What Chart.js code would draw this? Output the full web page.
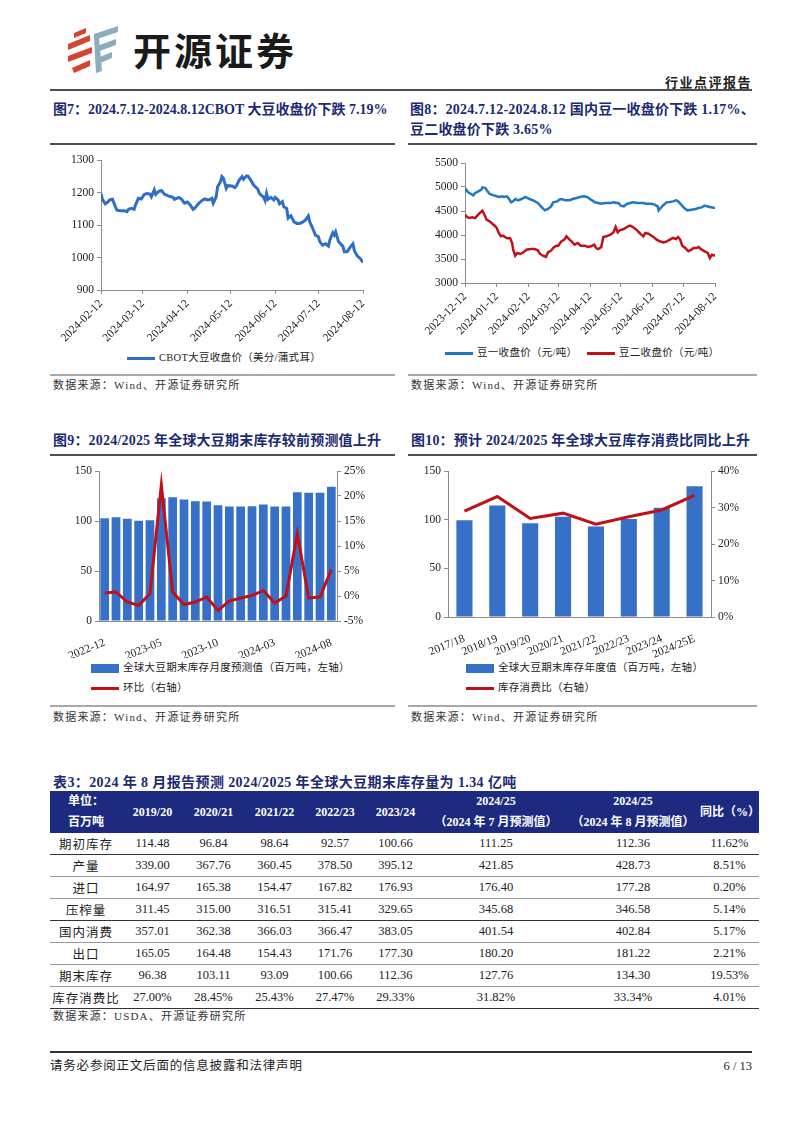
<!DOCTYPE html>
<html lang="zh-CN">
<head>
<meta charset="UTF-8">
<title>行业点评报告</title>
<script src="https://cdn.jsdelivr.net/npm/chart.js"></script>
<style>
  body { margin: 0; background: #fff; font-family: "Liberation Serif", "Noto Sans CJK SC", serif; color: #222; }
  #page { position: relative; width: 802px; height: 1133px; overflow: hidden; }
  .abs { position: absolute; }
  .title { font-size: 14px; font-weight: bold; color: #1b2b72; line-height: 20px; white-space: nowrap; letter-spacing: 0.2px; }
  .src { font-size: 11px; color: #333; white-space: nowrap; line-height: 14px; letter-spacing: 1.2px; }
  .rule-dark { height: 2px; background: #4d4d4d; }
  .rule-grey { height: 2px; background: #a8a8a8; }
  .lg { font-size: 10.5px; white-space: nowrap; line-height: 14px; color: #222; letter-spacing: 0.3px; }
  .lg span.sw { display: inline-block; vertical-align: middle; margin-right: 4px; }
  table { border-collapse: collapse; table-layout: fixed; font-size: 12.5px; }
  th { background: #1c2a80; color: #fff; font-weight: bold; line-height: 21px; padding: 0; text-align: center; font-size: 12px; }
  td { text-align: center; padding: 0; height: 21px; color: #222; }
  tr.dark td { border-bottom: 1.5px solid #333; }
  tr.grey td { border-bottom: 1px solid #9a9a9a; }
</style>
</head>
<body>
<div id="page">

  <!-- header -->
  <svg class="abs" style="left:65px; top:25px;" width="60" height="52">
    <polygon points="9,8 21,3 21,8 9,13" fill="#d8432f"/>
    <polygon points="3,19 25,10 25,16 3,25" fill="#d8432f"/>
    <polygon points="3,31 27,22 27,28 3,37" fill="#d8432f"/>
    <polygon points="7,43 25,35 25,41 9,48" fill="#d8432f"/>
    <polygon points="29,9 53,1 53,7 29,15" fill="#8eacbd"/>
    <polygon points="32,21 51,14 51,20 32,27" fill="#8eacbd"/>
    <polygon points="32,33 47,27 47,33 33,39" fill="#8eacbd"/>
    <polygon points="29,12 34,12 37,46 31,48" fill="#8eacbd"/>
  </svg>
  <div class="abs" style="left:133px; top:29px; font-family:'Noto Sans CJK SC'; font-weight:700; font-size:38px; line-height:40px; letter-spacing:3px; color:#1a1a1a;">开源证券</div>
  <div class="abs" style="right:50px; top:74px; font-family:'Noto Sans CJK SC'; font-weight:700; font-size:13px; line-height:16px; letter-spacing:1.5px; color:#222;">行业点评报告</div>
  <div class="abs rule-dark" style="left:50px; top:89px; width:702px;"></div>

  <!-- titles row 1 -->
  <div class="abs title" style="left:53px; top:100px; letter-spacing:0;">图7：2024.7.12-2024.8.12CBOT 大豆收盘价下跌 7.19%</div>
  <div class="abs title" style="left:410px; top:100px;">图8：2024.7.12-2024.8.12 国内豆一收盘价下跌 1.17%、<br>豆二收盘价下跌 3.65%</div>
  <div class="abs rule-dark" style="left:50px; top:143px; width:345px; height:1.5px;"></div>
  <div class="abs rule-dark" style="left:408px; top:143px; width:349px; height:1.5px;"></div>

  <canvas id="c7" class="abs" style="left:50px; top:146px;" width="345" height="200"></canvas>
  <canvas id="c8" class="abs" style="left:408px; top:146px;" width="349" height="200"></canvas>
  <div id="lg7"></div>
  <div id="lg8"></div>

  <div class="abs rule-grey" style="left:50px; top:374px; width:345px;"></div>
  <div class="abs rule-grey" style="left:408px; top:374px; width:349px;"></div>
  <div class="abs src" style="left:53px; top:378px;">数据来源：Wind、开源证券研究所</div>
  <div class="abs src" style="left:411px; top:378px;">数据来源：Wind、开源证券研究所</div>

  <!-- titles row 2 -->
  <div class="abs title" style="left:53px; top:431px;">图9：2024/2025 年全球大豆期末库存较前预测值上升</div>
  <div class="abs title" style="left:411px; top:431px;">图10：预计 2024/2025 年全球大豆库存消费比同比上升</div>
  <div class="abs rule-dark" style="left:50px; top:454px; width:345px; height:1.5px;"></div>
  <div class="abs rule-dark" style="left:408px; top:454px; width:349px; height:1.5px;"></div>

  <canvas id="c9" class="abs" style="left:50px; top:458px;" width="345" height="200"></canvas>
  <canvas id="c10" class="abs" style="left:408px; top:458px;" width="349" height="200"></canvas>
  <div id="lg9"></div>
  <div id="lg10"></div>

  <div class="abs rule-grey" style="left:50px; top:705px; width:345px;"></div>
  <div class="abs rule-grey" style="left:408px; top:705px; width:349px;"></div>
  <div class="abs src" style="left:53px; top:710px;">数据来源：Wind、开源证券研究所</div>
  <div class="abs src" style="left:411px; top:710px;">数据来源：Wind、开源证券研究所</div>

  <!-- table -->
  <div class="abs title" style="left:53px; top:773px; letter-spacing:0.4px;">表3：2024 年 8 月报告预测 2024/2025 年全球大豆期末库存量为 1.34 亿吨</div>
  <table id="tbl" class="abs" style="left:50px; top:791px; width:709px;"></table>
  <div class="abs src" style="left:53px; top:1009px;">数据来源：USDA、开源证券研究所</div>

  <!-- footer -->
  <div class="abs" style="left:50px; top:1051px; width:702px; height:1.5px; background:#333;"></div>
  <div class="abs" style="left:50px; top:1058px; font-size:12.5px; line-height:16px; letter-spacing:0.8px; color:#222;">请务必参阅正文后面的信息披露和法律声明</div>
  <div class="abs" style="right:50px; top:1058px; font-size:12.5px; line-height:16px; color:#222;">6 / 13</div>
</div>

<script>
  // ---- 图7: CBOT soybean close (day offset from 2024-02-12) ----
  const cbotTickDays = [0, 29, 60, 90, 121, 151, 182];
  const cbotTickLabels = ['2024-02-12', '2024-03-12', '2024-04-12', '2024-05-12', '2024-06-12', '2024-07-12', '2024-08-12'];
  const cbotDay = [0, 1, 3, 5, 6, 8, 10, 11, 13, 16, 18, 19, 21, 23, 24, 26, 28, 30, 32, 34,
    35, 37, 38, 40, 42, 44, 47, 50, 51, 54, 56, 58, 60, 62, 64, 65, 68, 70, 72, 74,
    76, 77, 78, 80, 81, 83, 84, 85, 87, 88, 91, 93, 94, 96, 98, 99, 101, 102, 104, 106,
    109, 110, 113, 114, 115, 116, 118, 120, 121, 123, 124, 126, 127, 129, 130, 132, 134, 136, 138, 140,
    142, 144, 145, 147, 149, 151, 152, 154, 156, 158, 159, 161, 162, 163, 165, 166, 168, 169, 171, 173,
    175, 176, 178, 180, 182];
  const cbotPrice = [1197, 1179, 1165, 1172, 1177, 1179, 1156, 1146, 1144, 1144, 1141, 1148, 1151, 1148, 1162, 1182, 1180, 1194, 1197, 1195,
    1187, 1208, 1194, 1203, 1206, 1195, 1189, 1185, 1179, 1185, 1179, 1167, 1171, 1162, 1148, 1151, 1167, 1175, 1180, 1177,
    1179, 1182, 1167, 1187, 1218, 1233, 1249, 1244, 1213, 1221, 1220, 1215, 1220, 1238, 1249, 1241, 1251, 1251, 1238, 1223,
    1210, 1197, 1185, 1175, 1197, 1179, 1185, 1177, 1185, 1177, 1165, 1172, 1156, 1151, 1121, 1128, 1110, 1105, 1105, 1109,
    1115, 1128, 1110, 1090, 1069, 1064, 1049, 1038, 1042, 1035, 1054, 1076, 1069, 1079, 1049, 1044, 1035, 1018, 1018, 1031,
    1042, 1021, 1005, 997, 985];

  // ---- 图8: DCE soybean No.1 / No.2 (day offset from 2023-12-12) ----
  const dceTickDays = [0, 31, 62, 91, 122, 152, 183, 213, 244];
  const dceTickLabels = ['2023-12-12', '2024-01-12', '2024-02-12', '2024-03-12', '2024-04-12', '2024-05-12', '2024-06-12', '2024-07-12', '2024-08-12'];
  const bean1Day = [0, 3, 6, 8, 10, 13, 16, 17, 20, 22, 24, 28, 31, 34, 36, 38, 41, 43, 45, 47,
    49, 52, 55, 59, 63, 67, 71, 75, 78, 81, 84, 86, 90, 92, 94, 98, 102, 105, 109, 112,
    116, 119, 121, 124, 127, 130, 133, 137, 142, 145, 148, 150, 152, 155, 158, 161, 164, 168, 171, 174,
    177, 182, 185, 188, 189, 191, 194, 197, 200, 203, 206, 208, 211, 214, 217, 221, 225, 228, 231, 234,
    236, 239, 244];
  const bean1Price = [4979, 4889, 4854, 4826, 4875, 4910, 4944, 4993, 4979, 4910, 4854, 4826, 4806, 4792, 4806, 4792, 4806, 4750, 4681, 4701,
    4750, 4722, 4750, 4792, 4750, 4715, 4667, 4576, 4514, 4542, 4597, 4681, 4701, 4736, 4750, 4722, 4722, 4750, 4771, 4792,
    4806, 4792, 4764, 4722, 4681, 4667, 4653, 4667, 4667, 4681, 4667, 4667, 4611, 4597, 4646, 4667, 4681, 4667, 4667, 4667,
    4653, 4653, 4632, 4597, 4514, 4563, 4632, 4681, 4688, 4701, 4722, 4701, 4632, 4563, 4514, 4528, 4542, 4563, 4576, 4611,
    4597, 4583, 4563];
  const bean2Day = [0, 2, 4, 7, 10, 12, 15, 17, 19, 21, 24, 27, 29, 31, 33, 35, 37, 41, 44, 46,
    47, 49, 51, 54, 57, 60, 64, 68, 71, 73, 76, 79, 81, 84, 86, 89, 91, 94, 97, 99,
    102, 104, 107, 110, 113, 117, 120, 123, 126, 128, 130, 133, 135, 138, 142, 145, 147, 149, 151, 155,
    158, 161, 164, 168, 171, 174, 176, 179, 182, 184, 187, 190, 194, 197, 200, 203, 206, 208, 210, 212,
    215, 218, 221, 223, 226, 228, 231, 234, 237, 239, 241, 244];
  const bean2Price = [4424, 4375, 4354, 4368, 4354, 4403, 4472, 4507, 4424, 4319, 4285, 4229, 4194, 4146, 4042, 3972, 3986, 3931, 3938, 3833,
    3694, 3569, 3625, 3604, 3639, 3694, 3708, 3708, 3681, 3611, 3569, 3542, 3639, 3674, 3729, 3778, 3778, 3868, 3903, 3972,
    3903, 3868, 3799, 3833, 3778, 3778, 3750, 3764, 3799, 3729, 3708, 3750, 3958, 3972, 4007, 4056, 4167, 4056, 4097, 4125,
    4167, 4194, 4167, 4097, 4028, 3972, 4042, 4028, 3986, 3958, 3903, 3868, 3847, 3868, 3903, 3938, 3917, 3958, 3903, 3778,
    3729, 3660, 3694, 3729, 3729, 3750, 3694, 3660, 3625, 3521, 3590, 3569];

  // ---- 图9: monthly forecasts of world ending stocks ----
  const invMonths = ['2022-12', '2023-01', '2023-02', '2023-03', '2023-04', '2023-05', '2023-06', '2023-07', '2023-08', '2023-09', '2023-10',
    '2023-11', '2023-12', '2024-01', '2024-02', '2024-03', '2024-04', '2024-05', '2024-06', '2024-07', '2024-08'];
  const invMonthly = [102.7, 103.7, 102.3, 100.2, 100.8, 122.8, 123.8, 121.5, 119.8, 119.5, 115.8, 114.5, 114.5, 114.8, 116.5, 114.5, 114.5, 128.8, 128.2, 128.2, 134.3];
  const invMoM = [0.6, 0.8, -1.2, -1.9, 0.5, 22.2, 0.8, -1.7, -1.2, -0.2, -2.9, -1.0, -0.4, 0.1, 1.1, -1.4, 0, 12.5, -0.4, -0.2, 5.3];

  // ---- 图10: yearly ending stocks and stocks-to-use ----
  const seasons = ['2017/18', '2018/19', '2019/20', '2020/21', '2021/22', '2022/23', '2023/24', '2024/25E'];
  const seasonStocks = [99.5, 114.5, 96.38, 103.11, 93.09, 100.66, 112.36, 134.30];
  const stockUseRatio = [29.0, 33.0, 27.00, 28.45, 25.43, 27.47, 29.33, 33.34];

  // ---- 表3 ----
  const tableHead = ['单位：<br>百万吨', '2019/20', '2020/21', '2021/22', '2022/23', '2023/24',
    '2024/25<br>（2024 年 7 月预测值）', '2024/25<br>（2024 年 8 月预测值）', '同比（%）'];
  const tableRows = [
    ['期初库存', '114.48', '96.84', '98.64', '92.57', '100.66', '111.25', '112.36', '11.62%'],
    ['产量', '339.00', '367.76', '360.45', '378.50', '395.12', '421.85', '428.73', '8.51%'],
    ['进口', '164.97', '165.38', '154.47', '167.82', '176.93', '176.40', '177.28', '0.20%'],
    ['压榨量', '311.45', '315.00', '316.51', '315.41', '329.65', '345.68', '346.58', '5.14%'],
    ['国内消费', '357.01', '362.38', '366.03', '366.47', '383.05', '401.54', '402.84', '5.17%'],
    ['出口', '165.05', '164.48', '154.43', '171.76', '177.30', '180.20', '181.22', '2.21%'],
    ['期末库存', '96.38', '103.11', '93.09', '100.66', '112.36', '127.76', '134.30', '19.53%'],
    ['库存消费比', '27.00%', '28.45%', '25.43%', '27.47%', '29.33%', '31.82%', '33.34%', '4.01%']
  ];
  const darkRows = [0, 3, 7];
  const colWidths = [72, 61, 61, 61, 60, 61, 140, 134, 59];

  const FONT = '"Liberation Serif", "Noto Sans CJK SC", serif';
  const AXIS = '#8c8c8c';
  const BLUE7 = '#2f6ec6', BLUE8 = '#2178c2', RED = '#c0111b', BAR = '#3771c7';

  function fixed(px) {
    return s => { if (s.isHorizontal()) s.height = px; else s.width = px; };
  }
  function axis(size, ticks, extra) {
    return Object.assign({
      border: { color: AXIS, width: 1 },
      grid: { drawOnChartArea: false, drawTicks: true, tickLength: 4, color: AXIS },
      ticks: Object.assign({ color: '#222', font: { family: FONT, size: 11.5 }, padding: 3, callback: v => v }, ticks),
      afterFit: fixed(size)
    }, extra);
  }
  const base = (pad) => ({
    responsive: false,
    animation: false,
    layout: { padding: pad },
    plugins: { legend: { display: false }, tooltip: { enabled: false } }
  });

  const cbotSet = { label: 'CBOT大豆收盘价（美分/蒲式耳）', data: cbotDay.map((d, i) => ({ x: d, y: cbotPrice[i] })),
    borderColor: BLUE7, backgroundColor: BLUE7, borderWidth: 3, pointRadius: 0, tension: 0 };
  new Chart(document.getElementById('c7'), {
    type: 'line',
    data: { datasets: [cbotSet] },
    options: Object.assign(base({ left: 0, right: 32, top: 14, bottom: 0 }), {
      scales: {
        x: axis(56, { autoSkip: false, minRotation: 45, maxRotation: 45, callback: (v, i) => cbotTickLabels[i] }, {
          type: 'linear', min: 0, max: 182,
          afterBuildTicks: s => { s.ticks = cbotTickDays.map(v => ({ value: v })); }
        }),
        y: axis(51, { stepSize: 100 }, { min: 900, max: 1300 })
      }
    })
  });

  const bean1Set = { label: '豆一收盘价（元/吨）', data: bean1Day.map((d, i) => ({ x: d, y: bean1Price[i] })),
    borderColor: BLUE8, backgroundColor: BLUE8, borderWidth: 2.5, pointRadius: 0, tension: 0 };
  const bean2Set = { label: '豆二收盘价（元/吨）', data: bean2Day.map((d, i) => ({ x: d, y: bean2Price[i] })),
    borderColor: RED, backgroundColor: RED, borderWidth: 2.5, pointRadius: 0, tension: 0 };
  new Chart(document.getElementById('c8'), {
    type: 'line',
    data: { datasets: [bean1Set, bean2Set] },
    options: Object.assign(base({ left: 0, right: 42, top: 17, bottom: 0 }), {
      scales: {
        x: axis(63, { autoSkip: false, minRotation: 45, maxRotation: 45, callback: (v, i) => dceTickLabels[i] }, {
          type: 'linear', min: 0, max: 244,
          afterBuildTicks: s => { s.ticks = dceTickDays.map(v => ({ value: v })); }
        }),
        y: axis(57, { stepSize: 500 }, { min: 3000, max: 5500 })
      }
    })
  });

  const invBarSet = { type: 'bar', label: '全球大豆期末库存月度预测值（百万吨，左轴）', data: invMonthly, yAxisID: 'y',
    backgroundColor: BAR, barPercentage: 0.77, categoryPercentage: 1, order: 1 };
  const invLineSet = { type: 'line', label: '环比（右轴）', data: invMoM, yAxisID: 'y1',
    borderColor: RED, backgroundColor: RED, borderWidth: 3, pointRadius: 0, tension: 0, order: 0 };
  new Chart(document.getElementById('c9'), {
    data: { labels: invMonths, datasets: [invBarSet, invLineSet] },
    options: Object.assign(base({ left: 0, right: 0, top: 13, bottom: 0 }), {
      scales: {
        x: axis(37, { autoSkip: false, minRotation: 22, maxRotation: 22, padding: 7,
          callback: (v, i) => (i % 5 === 0 ? invMonths[i] : '') }, { grid: { display: false } }),
        y: axis(49, { stepSize: 50 }, { min: 0, max: 150 }),
        y1: axis(58, { stepSize: 5, callback: v => v + '%' }, { position: 'right', min: -5, max: 25 })
      }
    })
  });

  const yrBarSet = { type: 'bar', label: '全球大豆期末库存年度值（百万吨，左轴）', data: seasonStocks, yAxisID: 'y',
    backgroundColor: BAR, barPercentage: 0.49, categoryPercentage: 1, order: 1 };
  const yrLineSet = { type: 'line', label: '库存消费比（右轴）', data: stockUseRatio, yAxisID: 'y1',
    borderColor: RED, backgroundColor: RED, borderWidth: 3, pointRadius: 0, tension: 0, order: 0 };
  new Chart(document.getElementById('c10'), {
    data: { labels: seasons, datasets: [yrBarSet, yrLineSet] },
    options: Object.assign(base({ left: 0, right: 0, top: 13, bottom: 0 }), {
      scales: {
        x: axis(41, { autoSkip: false, minRotation: 22, maxRotation: 22, padding: 7, callback: (v, i) => seasons[i] },
          { grid: { display: false } }),
        y: axis(40, { stepSize: 50 }, { min: 0, max: 150 }),
        y1: axis(46, { stepSize: 10, callback: v => v + '%' }, { position: 'right', min: 0, max: 40 })
      }
    })
  });

  // html legends built from the dataset settings
  function legendItem(host, x, y, ds, kind) {
    const d = document.createElement('div');
    d.className = 'abs lg';
    d.style.left = x + 'px';
    d.style.top = (y - 7) + 'px';
    const sw = document.createElement('span');
    sw.className = 'sw';
    sw.style.width = '28px';
    sw.style.height = kind === 'bar' ? '9px' : '3px';
    sw.style.background = kind === 'bar' ? ds.backgroundColor : ds.borderColor;
    d.appendChild(sw);
    d.appendChild(document.createTextNode(ds.label));
    document.getElementById(host).appendChild(d);
  }
  legendItem('lg7', 127, 358, cbotSet, 'line');
  legendItem('lg8', 445, 353, bean1Set, 'line');
  legendItem('lg8', 587, 353, bean2Set, 'line');
  legendItem('lg9', 91, 668, invBarSet, 'bar');
  legendItem('lg9', 91, 688, invLineSet, 'line');
  legendItem('lg10', 466, 668, yrBarSet, 'bar');
  legendItem('lg10', 466, 688, yrLineSet, 'line');

  // table
  const tbl = document.getElementById('tbl');
  let html = '<colgroup>' + colWidths.map(w => '<col style="width:' + w + 'px">').join('') + '</colgroup>';
  html += '<tr style="height:42px">' + tableHead.map(h => '<th>' + h + '</th>').join('') + '</tr>';
  tableRows.forEach((r, i) => {
    html += '<tr class="' + (darkRows.includes(i) ? 'dark' : 'grey') + '">' +
      r.map((c, j) => '<td' + (j === 0 ? ' style="letter-spacing:1px"' : '') + '>' + c + '</td>').join('') + '</tr>';
  });
  tbl.innerHTML = html;
</script>
</body>
</html>
